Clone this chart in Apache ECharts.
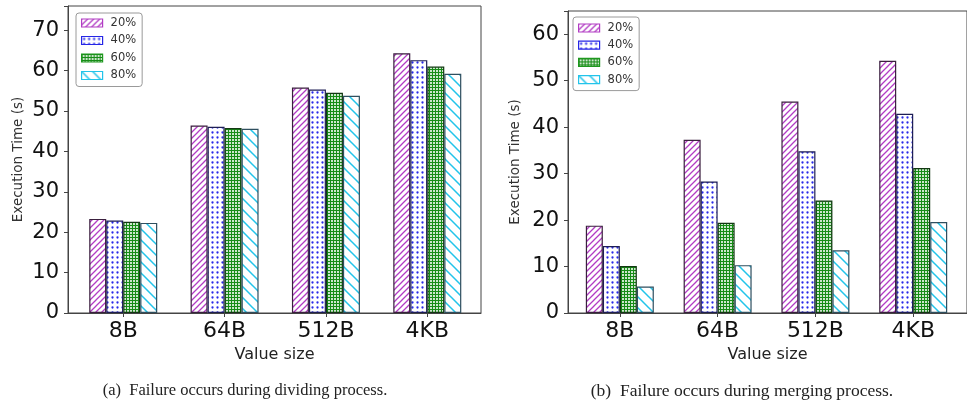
<!DOCTYPE html>
<html>
<head>
<meta charset="utf-8">
<script src="https://cdn.jsdelivr.net/npm/echarts@6/dist/echarts.min.js"></script>
<style>
  html, body { margin: 0; padding: 0; background: #fff; }
  #chart { width: 967px; height: 407px; }
</style>
</head>
<body>
<div id="chart"></div>
<script>
// Value sizes on the x axis and the failure points (percent of progress) per bar
const categories = ['8B', '64B', '512B', '4KB'];
const seriesNames = ['20%', '40%', '60%', '80%'];

// (a) failure during the dividing process, execution time in seconds
const divide20 = [23.3, 46.4, 55.8, 64.3];
const divide40 = [22.9, 46.1, 55.3, 62.6];
const divide60 = [22.6, 45.8, 54.5, 61.0];
const divide80 = [22.3, 45.6, 53.8, 59.2];

// (b) failure during the merging process, execution time in seconds
const merge20 = [18.8, 37.3, 45.5, 54.3];
const merge40 = [14.4, 28.3, 34.8, 42.9];
const merge60 = [10.1, 19.4, 24.2, 31.2];
const merge80 = [5.7, 10.3, 13.5, 19.6];

const yTicksLeft = [0, 10, 20, 30, 40, 50, 60, 70];
const yTicksRight = [0, 10, 20, 30, 40, 50, 60];

const captionA = '(a)  Failure occurs during dividing process.';
const captionB = '(b)  Failure occurs during merging process.';

// ---- hatch fills drawn on small tiles ----
function tile(w, h, draw) {
  const c = document.createElement('canvas');
  c.width = w; c.height = h;
  const g = c.getContext('2d');
  g.fillStyle = '#ffffff';
  g.fillRect(0, 0, w, h);
  draw(g, w, h);
  return { image: c, repeat: 'repeat' };
}
const hatchFwd = tile(6, 6, (g, w, h) => {
  g.strokeStyle = '#b23cc4'; g.lineWidth = 1.3;
  g.beginPath();
  g.moveTo(-1, h + 1); g.lineTo(w + 1, -1);
  g.moveTo(-1, 1); g.lineTo(1, -1);
  g.moveTo(w - 1, h + 1); g.lineTo(w + 1, h - 1);
  g.stroke();
});
const hatchDots = tile(5, 5, (g) => {
  g.fillStyle = '#2a2ae8';
  g.beginPath(); g.arc(2.5, 2.5, 1.15, 0, Math.PI * 2); g.fill();
});
const hatchGrid = tile(3, 3, (g) => {
  g.fillStyle = '#168c16';
  g.fillRect(0, 0, 3, 1);
  g.fillRect(0, 0, 1, 3);
  g.fillStyle = 'rgba(22,140,22,0.22)';
  g.fillRect(1, 1, 2, 2);
});
const hatchBack = tile(11, 11, (g, w, h) => {
  g.strokeStyle = '#22c4ea'; g.lineWidth = 1.5;
  g.beginPath();
  g.moveTo(-1, -1); g.lineTo(w + 1, h + 1);
  g.moveTo(w - 1, -1); g.lineTo(w + 1, 1);
  g.moveTo(-1, h - 1); g.lineTo(1, h + 1);
  g.stroke();
});

const fills = [hatchFwd, hatchDots, hatchGrid, hatchBack];
const edges = ['#3a1f3e', '#1e1e55', '#143814', '#2f4f5f'];
const legendEdges = ['#b23cc4', '#2626e6', '#1e981e', '#22c4ea'];

const FONT = 'DejaVu Sans';
const catIdx = categories.map((_, i) => i);

function xAxisFor(gridIndex, min, max) {
  return {
    gridIndex, type: 'value', min, max,
    name: 'Value size', nameLocation: 'middle', nameGap: 31,
    nameTextStyle: { fontFamily: FONT, fontSize: 16, color: '#222' },
    splitLine: { show: false },
    axisLine: { onZero: false, lineStyle: { color: '#444', width: 1 } },
    axisTick: { customValues: catIdx, length: 4, lineStyle: { color: '#444' } },
    axisLabel: {
      customValues: catIdx, margin: 7,
      formatter: v => categories[Math.round(v)],
      fontFamily: FONT, fontSize: 22, color: '#111'
    }
  };
}
function yAxisFor(gridIndex, max, ticks, gap) {
  return {
    gridIndex, type: 'value', min: 0, max, interval: 10,
    name: 'Execution Time (s)', nameLocation: 'middle', nameGap: gap,
    nameTextStyle: { fontFamily: FONT, fontSize: 13.5, color: '#333' },
    splitLine: { show: false },
    axisLine: { show: true, onZero: false, lineStyle: { color: '#444', width: 1 } },
    axisTick: { show: true, length: 4, lineStyle: { color: '#444' } },
    axisLabel: {
      margin: 9, fontFamily: FONT, fontSize: 21, color: '#111',
      formatter: v => (ticks.indexOf(v) >= 0 ? String(v) : '')
    }
  };
}
function barSeries(name, values, k, axisIndex) {
  return {
    type: 'bar', name,
    xAxisIndex: axisIndex, yAxisIndex: axisIndex,
    barWidth: 17, barGap: '0%',
    data: values.map((v, i) => [i, v]),
    itemStyle: { color: fills[k], borderColor: edges[k], borderWidth: 1.2 },
    emphasis: { disabled: true },
    animation: false
  };
}
function legendFor(left, top, itemGap, pad) {
  return {
    orient: 'vertical', left, top,
    data: seriesNames.map((n, k) => ({
      name: n, icon: 'rect',
      itemStyle: { color: fills[k], borderColor: legendEdges[k], borderWidth: 1.2 }
    })),
    itemWidth: 21, itemHeight: 8, itemGap,
    padding: pad,
    borderColor: '#9a9a9a', borderWidth: 1, borderRadius: 3,
    backgroundColor: '#fff',
    selectedMode: false,
    textStyle: { fontFamily: FONT, fontSize: 11.5, color: '#333', padding: [0, 0, 0, 3], lineHeight: 11 }
  };
}

const chart = echarts.init(document.getElementById('chart'), null, { renderer: 'canvas' });
chart.setOption({
  backgroundColor: '#fff',
  animation: false,
  grid: [
    { left: 68, top: 6, width: 413, height: 307, show: true, borderColor: '#444', borderWidth: 1, containLabel: false },
    { left: 568, top: 11, width: 412, height: 302, show: true, borderColor: '#444', borderWidth: 1, containLabel: false }
  ],
  xAxis: [xAxisFor(0, -0.545, 3.53), xAxisFor(1, -0.53, 3.55)],
  yAxis: [yAxisFor(0, 76, yTicksLeft, 43), yAxisFor(1, 65, yTicksRight, 46)],
  legend: [legendFor(76, 13, 5.5, [4, 6, 5, 5]), legendFor(573, 17, 5.2, [5, 6, 5, 5])],
  series: [
    barSeries(seriesNames[0], divide20, 0, 0),
    barSeries(seriesNames[1], divide40, 1, 0),
    barSeries(seriesNames[2], divide60, 2, 0),
    barSeries(seriesNames[3], divide80, 3, 0),
    barSeries(seriesNames[0], merge20, 0, 1),
    barSeries(seriesNames[1], merge40, 1, 1),
    barSeries(seriesNames[2], merge60, 2, 1),
    barSeries(seriesNames[3], merge80, 3, 1)
  ],
  graphic: [
    { type: 'text', x: 245, y: 382, style: { text: captionA, font: '16.5px "Liberation Serif"', fill: '#222', align: 'center', textAlign: 'center' } },
    { type: 'text', x: 742, y: 382, style: { text: captionB, font: '17.5px "Liberation Serif"', fill: '#222', align: 'center', textAlign: 'center' } }
  ]
});
</script>
</body>
</html>
